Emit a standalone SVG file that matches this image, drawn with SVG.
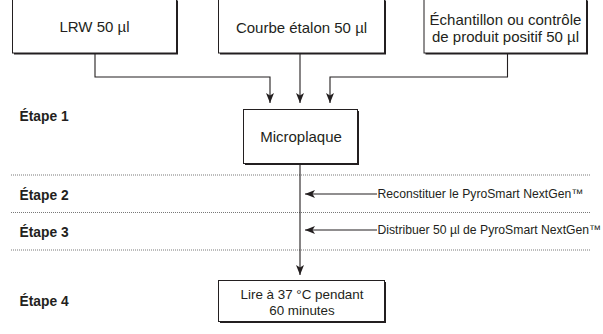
<svg xmlns="http://www.w3.org/2000/svg" width="603" height="334" viewBox="0 0 603 334">
<style>
.box{fill:#fff;stroke:#231f20;stroke-width:1}
.sh{fill:#231f20}
.t{font-family:"Liberation Sans",Arial,sans-serif;font-size:15px;fill:#231f20;text-anchor:middle}
.t4{font-family:"Liberation Sans",Arial,sans-serif;font-size:13.4px;fill:#231f20;text-anchor:middle}
.lab{font-family:"Liberation Sans",Arial,sans-serif;font-size:12.2px;fill:#231f20}
.step{font-family:"Liberation Sans",Arial,sans-serif;font-size:13.8px;font-weight:bold;fill:#231f20}
.con{fill:none;stroke:#231f20;stroke-width:1.1}
.dot{stroke:#555;stroke-width:0.8;stroke-dasharray:1 1}
</style>
<defs>
<marker id="ah" viewBox="0 0 10 8" refX="10" refY="4" markerWidth="10" markerHeight="8" markerUnits="userSpaceOnUse" orient="auto">
<path d="M0,0 L10,4 L0,8 L2.5,4 z" fill="#231f20"/>
</marker>
</defs>
<rect width="603" height="334" fill="#fff"/>
<g id="dividers">
<line class="dot" x1="11" y1="175" x2="591" y2="175"/>
<line class="dot" x1="11" y1="212.5" x2="591" y2="212.5"/>
<line class="dot" x1="11" y1="250" x2="591" y2="250"/>
</g>
<g id="steps">
<text class="step" x="19.5" y="120.5">Étape 1</text>
<text class="step" x="19.5" y="199.5">Étape 2</text>
<text class="step" x="19.5" y="236.5">Étape 3</text>
<text class="step" x="19.5" y="306">Étape 4</text>
</g>
<g id="connectors">
<path class="con" d="M95,53.5 V77 H270 V103" marker-end="url(#ah)"/>
<path class="con" d="M300,53.5 V103" marker-end="url(#ah)"/>
<path class="con" d="M507.5,53.5 V77 H330 V103" marker-end="url(#ah)"/>
<path class="con" d="M300,164 V275" marker-end="url(#ah)"/>
<path class="con" d="M377,194 H305" marker-end="url(#ah)"/>
<path class="con" d="M377,230 H305" marker-end="url(#ah)"/>
</g>
<g id="label-reconstituer">
<text class="lab" x="377.5" y="198">Reconstituer le PyroSmart NextGen™</text>
</g>
<g id="label-distribuer">
<text class="lab" x="377.5" y="234">Distribuer 50 µl de PyroSmart NextGen™</text>
</g>
<g id="lrw">
<rect class="sh" x="14" y="0.5" width="164" height="54"/>
<rect class="box" x="12.5" y="-1" width="164" height="54"/>
<text class="t" x="94.5" y="32">LRW 50 µl</text>
</g>
<g id="courbe">
<rect class="sh" x="220" y="0.5" width="166" height="54"/>
<rect class="box" x="218.5" y="-1" width="166" height="54"/>
<text class="t" x="301.5" y="33">Courbe étalon 50 µl</text>
</g>
<g id="echantillon">
<rect class="sh" x="425.5" y="0.5" width="162.5" height="54"/>
<rect class="box" x="424" y="-1" width="162.5" height="54"/>
<text class="t" x="505.5" y="24.5">Échantillon ou contrôle</text>
<text class="t" x="505.5" y="41.5">de produit positif 50 µl</text>
</g>
<g id="microplaque">
<rect class="sh" x="245" y="111" width="114" height="54"/>
<rect class="box" x="243.5" y="109.5" width="114" height="54"/>
<text class="t" x="301" y="142">Microplaque</text>
</g>
<g id="lire">
<rect class="sh" x="220" y="282" width="166" height="41"/>
<rect class="box" x="218.5" y="280.5" width="166" height="41"/>
<text class="t4" x="302" y="298.5">Lire à 37 °C pendant</text>
<text class="t4" x="302" y="315">60 minutes</text>
</g>
</svg>
